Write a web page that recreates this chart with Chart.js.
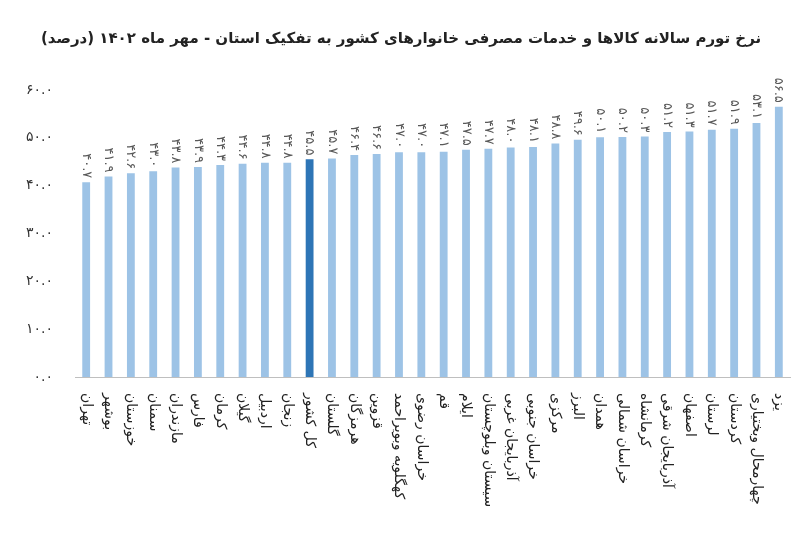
<!DOCTYPE html>
<html><head><meta charset="utf-8">
<script src="https://cdn.jsdelivr.net/npm/chart.js@4"></script>
<style>body{margin:0;background:#fff}#w{width:800px;height:550px}</style>
</head><body><div id="w"><canvas id="c"></canvas></div>
<script>
const categories=["تهران","بوشهر","خوزستان","سمنان","مازندران","فارس","کرمان","گیلان","اردبیل","زنجان","کل کشور","گلستان","هرمزگان","قزوین","کهگلویه وبویراحمد","خراسان رضوی","قم","ایلام","سیستان وبلوچستان","آذربایجان غربی","خراسان جنوبی","مرکزی","البرز","همدان","خراسان شمالی","کرمانشاه","آذربایجان شرقی","اصفهان","لرستان","کردستان","چهارمحال وبختیاری","یزد"];
const values=[40.7,41.9,42.6,43.0,43.8,43.9,44.3,44.6,44.8,44.8,45.5,45.7,46.4,46.6,47.0,47.0,47.1,47.5,47.7,48.0,48.1,48.8,49.6,50.1,50.2,50.3,51.2,51.3,51.7,51.9,53.1,56.5];
const highlight="کل کشور";
const fa=s=>String(s).replace(/\d/g,d=>"۰۱۲۳۴۵۶۷۸۹"[d]);
const fmt=v=>fa(v.toFixed(1));
const labelPlugin={id:'lbl',afterDatasetsDraw(ch){
  const ctx=ch.ctx,meta=ch.getDatasetMeta(0),xs=ch.scales.x;
  ctx.save();ctx.textBaseline='middle';
  ctx.fillStyle='#595959';ctx.font='13px "DejaVu Sans"';ctx.textAlign='right';
  meta.data.forEach((b,i)=>{ctx.save();ctx.translate(b.x,b.y-4);ctx.rotate(Math.PI/2);ctx.fillText(fmt(values[i]),0,0);ctx.restore();});
  ctx.fillStyle='#222';ctx.font='14px "DejaVu Sans"';ctx.textAlign='left';
  categories.forEach((c,i)=>{ctx.save();ctx.translate(xs.getPixelForTick(i),xs.bottom+8);ctx.rotate(Math.PI/2);ctx.fillText(c,0,0);ctx.restore();});
  ctx.restore();}};
new Chart(document.getElementById('c'),{type:'bar',
 data:{labels:categories,datasets:[{data:values,
   backgroundColor:categories.map(c=>c===highlight?'#2E75B6':'#9DC3E6'),barPercentage:0.35,categoryPercentage:1}]},
 options:{responsive:true,maintainAspectRatio:false,animation:false,
  layout:{padding:{left:12,right:10,top:0,bottom:165}},
  plugins:{legend:{display:false},tooltip:{enabled:false},
   title:{display:true,text:"نرخ تورم سالانه کالاها و خدمات مصرفی خانوارهای کشور به تفکیک استان - مهر ماه ۱۴۰۲ (درصد)",
     font:{size:15,weight:'bold',family:'"DejaVu Sans"'},color:'#222',padding:{top:30,bottom:42}}},
  scales:{y:{min:0,max:60,ticks:{stepSize:10,callback:v=>fmt(v),color:'#333',padding:14,font:{size:14,family:'"DejaVu Sans"'}},
     grid:{display:false},border:{display:false}},
   x:{grid:{display:false},border:{color:'#bfbfbf'},ticks:{display:false}}}},
 plugins:[labelPlugin]});
</script></body></html>
